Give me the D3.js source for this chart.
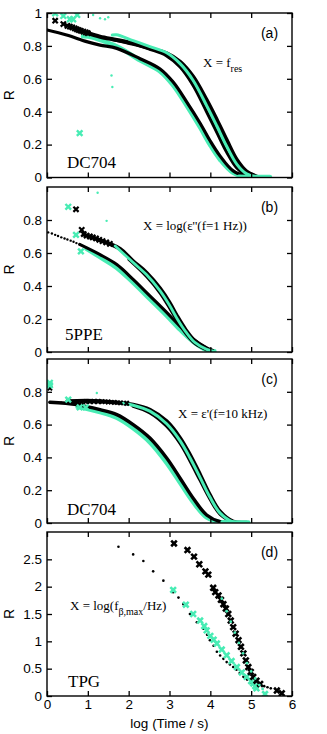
<!DOCTYPE html>
<html><head><meta charset="utf-8">
<script src="https://cdn.jsdelivr.net/npm/d3@7"></script>
<style>html,body{margin:0;padding:0;background:#fff;}svg{display:block;}</style>
</head><body><svg id="c" width="327" height="734"></svg>
<script>
// ---------- tick / label data ----------
const xTicks=[0,1,2,3,4,5,6];
const yTicksA=[0,0.2,0.4,0.6,0.8,1];
const yTicksB=[0,0.2,0.4,0.6,0.8];
const yTicksC=[0,0.2,0.4,0.6,0.8];
const yTicksD=[0,0.5,1,1.5,2,2.5];
const panelLabels=["(a)","(b)","(c)","(d)"];
const sampleNames=["DC704","5PPE","DC704","TPG"];

// ---------- panel (a) DC704, X = f_res ----------
const aBlackCross=[[0.2,0.953],[0.4,0.933],[0.5,0.922],[0.56,0.917],[0.62,0.912],[0.68,0.906],[0.73,0.901],[0.78,0.896],[0.83,0.892],[0.89,0.887],[0.95,0.882],[1.0,0.877]];
const aBlackOuter=[[1.0,0.877],[1.3,0.856],[1.71,0.836],[2.11,0.815],[2.52,0.785],[2.93,0.755],[3.26,0.704],[3.58,0.613],[3.91,0.471],[4.16,0.35],[4.40,0.228],[4.65,0.107],[4.89,0.036],[5.14,0.006]];
const aBlackInner=[[1.6,0.84],[2.11,0.81],[2.52,0.78],[2.93,0.74],[3.26,0.672],[3.58,0.56],[3.91,0.4],[4.16,0.275],[4.40,0.155],[4.65,0.058],[4.89,0.012],[5.05,0.004]];
const aCyanUpper=[[1.6,0.866],[1.7,0.868],[2.11,0.832],[2.52,0.796],[2.93,0.758],[3.26,0.692],[3.58,0.59],[3.91,0.437],[4.16,0.313],[4.40,0.19],[4.65,0.08],[4.89,0.022],[5.14,0.004]];
const aBlackLower=[[0,0.897],[0.48,0.866],[0.97,0.826],[1.3,0.805],[1.71,0.785],[2.28,0.722],[2.77,0.66],[3.09,0.58],[3.42,0.46],[3.75,0.33],[3.99,0.225],[4.24,0.13],[4.56,0.04],[4.89,0.005]];
const aCyanLower=[[0.88,0.858],[1.1,0.853],[1.4,0.828],[1.8,0.786],[2.28,0.712],[2.77,0.645],[3.09,0.56],[3.42,0.438],[3.75,0.305],[3.99,0.2],[4.24,0.108],[4.56,0.028],[4.89,0.004]];
const aCyanTail=[[4.7,0.005],[5.0,0.003],[5.46,0.003]];
const aCyanCross=[[0.2,0.998],[0.4,0.982],[0.56,0.962],[0.64,0.962],[0.74,0.988],[0.8,0.27]];
const aCyanDot=[[1.13,0.988],[1.30,0.968],[1.42,0.962],[1.50,0.974],[1.58,0.62],[1.6,0.55]];

// ---------- panel (b) 5PPE, X = log(eps''(1 Hz)) ----------
const bBlackDot=[[0.03,0.725],[0.12,0.718],[0.2,0.71],[0.27,0.703],[0.35,0.695],[0.43,0.688],[0.5,0.682],[0.58,0.675],[0.65,0.668],[0.72,0.66],[0.8,0.652]];
const bBlackCross=[[0.71,0.865],[0.85,0.74],[0.9,0.715],[0.97,0.705],[1.05,0.7],[1.12,0.695],[1.2,0.688],[1.28,0.68],[1.36,0.672],[1.45,0.664],[1.54,0.655]];
const bBlackUpper=[[0.9,0.712],[1.54,0.655],[1.79,0.625],[2.11,0.55],[2.44,0.48],[2.77,0.385],[3.0,0.3],[3.18,0.22],[3.4,0.133],[3.62,0.066],[3.91,0.02],[4.05,0.008]];
const bBlackInner=[[2.0,0.56],[2.44,0.455],[2.77,0.355],[3.0,0.265],[3.18,0.19],[3.4,0.11],[3.62,0.05],[3.91,0.012]];
const bBlackLower=[[0.8,0.652],[1.30,0.59],[1.71,0.53],[2.11,0.44],[2.52,0.34],[2.93,0.24],[3.26,0.155],[3.58,0.08],[3.91,0.025],[4.05,0.008]];
const bCyanUpper=[[1.67,0.642],[2.11,0.542],[2.44,0.468],[2.77,0.37],[3.0,0.283],[3.18,0.205],[3.4,0.122],[3.62,0.058],[3.91,0.016],[4.1,0.004]];
const bCyanLower=[[0.97,0.625],[1.30,0.575],[1.71,0.51],[2.11,0.42],[2.52,0.32],[2.93,0.22],[3.26,0.135],[3.58,0.063],[3.91,0.012],[4.1,0.004]];
const bCyanCross=[[0.52,0.88],[0.71,0.71],[0.83,0.61]];
const bCyanDot=[[1.24,0.965],[1.46,0.795]];

// ---------- panel (c) DC704, X = eps'(10 kHz) ----------
const cBlackDot=[[0.07,0.736],[0.15,0.735],[0.25,0.734],[0.35,0.733],[0.45,0.732],[0.55,0.731],[0.65,0.73]];
const cBlackCross=[[0.07,0.822],[0.75,0.735],[0.85,0.738],[0.95,0.74],[1.05,0.74],[1.15,0.741],[1.25,0.741],[1.35,0.74],[1.5,0.738],[1.65,0.735],[1.8,0.733],[1.95,0.73]];
const cBlackOuter=[[0.5,0.743],[1.3,0.743],[2.11,0.722],[2.52,0.691],[2.93,0.62],[3.26,0.518],[3.5,0.416],[3.75,0.294],[3.99,0.171],[4.24,0.069],[4.56,0.008],[4.89,0.002]];
const cBlackInner=[[2.11,0.712],[2.52,0.672],[2.93,0.59],[3.26,0.485],[3.5,0.38],[3.75,0.26],[3.99,0.147],[4.24,0.053],[4.56,0.005]];
const cCyanUpper=[[1.8,0.733],[2.11,0.718],[2.52,0.682],[2.93,0.605],[3.26,0.501],[3.5,0.398],[3.75,0.277],[3.99,0.158],[4.24,0.06],[4.56,0.006],[4.8,0.002]];
const cBlackLower=[[0.07,0.736],[0.73,0.722],[1.3,0.691],[1.71,0.661],[2.11,0.6],[2.52,0.518],[2.93,0.396],[3.26,0.273],[3.58,0.151],[3.91,0.049],[4.24,0.008],[4.56,0.002]];
const cCyanLower=[[0.75,0.708],[1.3,0.676],[1.71,0.642],[2.11,0.578],[2.52,0.492],[2.93,0.367],[3.26,0.245],[3.58,0.127],[3.91,0.034],[4.24,0.005],[4.56,0.002]];
const cCyanTail=[[4.3,0.004],[4.6,0.003],[4.93,0.003]];
const cCyanCross=[[0.07,0.855],[0.07,0.84],[0.52,0.752],[0.8,0.705],[0.95,0.705]];
const cCyanDot=[[1.22,0.793]];

// ---------- panel (d) TPG, X = log(f_beta,max/Hz) ----------
const dBlackDot=[[1.75,2.73],[2.11,2.59],[2.36,2.47],[2.6,2.28],[2.85,2.11],[3.09,1.9],[3.22,1.8],[3.34,1.68],[3.5,1.5],[3.67,1.35],[3.83,1.23],[3.92,1.12],[3.99,1.02],[4.08,0.92],[4.16,0.81],[4.24,0.74],[4.32,0.68],[4.4,0.62],[4.48,0.575],[4.56,0.53],[4.64,0.48],[4.72,0.42],[4.81,0.35],[4.9,0.3],[5.01,0.24],[5.1,0.2],[5.32,0.18],[5.4,0.16],[5.48,0.14]];
const dCyanCross=[[3.09,1.94],[3.4,1.67],[3.58,1.5],[3.75,1.38],[3.85,1.28],[3.91,1.2],[4.0,1.1],[4.08,1.03],[4.16,0.96],[4.28,0.85],[4.4,0.745],[4.52,0.64],[4.65,0.53],[4.77,0.43],[4.89,0.35],[5.0,0.27],[5.05,0.23],[5.1,0.18],[5.13,0.14],[5.34,0.036]];
const dBlackCross=[[3.11,2.79],[3.44,2.67],[3.6,2.55],[3.73,2.41],[3.88,2.28],[3.95,2.22],[4.07,1.98],[4.12,1.9],[4.2,1.84],[4.26,1.76],[4.32,1.68],[4.38,1.6],[4.44,1.5],[4.5,1.38],[4.56,1.26],[4.62,1.14],[4.69,1.02],[4.75,0.9],[4.81,0.78],[4.87,0.65],[4.93,0.53],[4.99,0.44],[5.05,0.35],[5.13,0.28],[5.22,0.22],[5.63,0.1],[5.75,0.05]];
const dCyanDot=[[4.28,1.78],[4.4,1.55],[4.5,1.36],[4.6,1.16],[4.7,0.97],[4.8,0.78],[4.9,0.6],[5.0,0.45],[5.1,0.32],[5.2,0.2],[5.28,0.13],[5.35,0.05]];

// ---------- drawing ----------
const CYAN="#48ECB4", BLACK="#000";
const svg=d3.select("#c");
const L=47, R=292;
const x=d3.scaleLinear().domain([0,6]).range([L,R]);
const fmt=d=>String(d);

const panels=[
 {top:13,bottom:177.5,ymax:1,ticks:yTicksA,
  lines:[[aCyanLower,CYAN,4.5],[aBlackLower,BLACK,3.2],[aBlackOuter,BLACK,4],[aBlackInner,BLACK,3.2],[aCyanUpper,CYAN,3],[aCyanTail,CYAN,4.5]],
  pts:[[aBlackCross,"x",BLACK,2.6,2.2],[aCyanCross,"x",CYAN,2.8,2.4],[aCyanDot,"o",CYAN,1.2]],
  note:{x:203,y:67,parts:[["X = f",0],["res",1]]},sx:67,sy:168},
 {top:187,bottom:352,ymax:1,ticks:yTicksB,
  lines:[[bCyanLower,CYAN,4.5],[bBlackLower,BLACK,3],[bBlackUpper,BLACK,4],[bBlackInner,BLACK,2.6],[bCyanUpper,CYAN,2.8]],
  pts:[[bBlackDot,"o",BLACK,1.2],[bBlackCross,"x",BLACK,2.6,2.2],[bCyanCross,"x",CYAN,2.8,2.4],[bCyanDot,"o",CYAN,1.2]],
  note:{x:143,y:230,parts:[["X = log(ε''(f=1 Hz))",0]]},sx:65,sy:340},
 {top:359,bottom:523,ymax:1,ticks:yTicksC,
  lines:[[cCyanLower,CYAN,4.5],[cBlackLower,BLACK,3.4],[cBlackOuter,BLACK,4],[cBlackInner,BLACK,3.2],[cCyanUpper,CYAN,3],[cCyanTail,CYAN,4.5]],
  pts:[[cBlackDot,"o",BLACK,1.2],[cBlackCross,"x",BLACK,2.2,2],[cCyanCross,"x",CYAN,2.8,2.4],[cCyanDot,"o",CYAN,1.2]],
  note:{x:178,y:418,parts:[["X = ε'(f=10 kHz)",0]]},sx:67,sy:515},
 {top:532,bottom:696,ymax:3,ticks:yTicksD,
  lines:[],
  pts:[[dBlackDot,"o",BLACK,1.3],[dCyanCross,"x",CYAN,2.8,2.6],[dBlackCross,"x",BLACK,2.8,2.6],[dCyanDot,"o",CYAN,1.4]],
  note:{x:70,y:610,parts:[["X = log(f",0],["β,max",1],["/Hz)",0]]},sx:68,sy:687}
];

function crossPath(s){return `M${-s},${-s}L${s},${s}M${-s},${s}L${s},${-s}`;}

panels.forEach((p,i)=>{
  const y=d3.scaleLinear().domain([0,p.ymax]).range([p.bottom,p.top]);
  const g=svg.append("g");
  const clipId="clip"+i;
  svg.append("clipPath").attr("id",clipId).append("rect")
    .attr("x",L).attr("y",p.top).attr("width",R-L).attr("height",p.bottom-p.top);
  const plot=g.append("g").attr("clip-path",`url(#${clipId})`);
  const line=d3.line().x(d=>x(d[0])).y(d=>y(d[1])).curve(d3.curveCatmullRom.alpha(0.5));
  p.lines.forEach(([data,col,w])=>{
    plot.append("path").attr("d",line(data)).attr("fill","none").attr("stroke",col)
      .attr("stroke-width",w).attr("stroke-linecap","round").attr("stroke-linejoin","round");
  });
  p.pts.forEach(([data,type,col,s,sw])=>{
    if(type==="x"){
      plot.selectAll(null).data(data).enter().append("path")
        .attr("transform",d=>`translate(${x(d[0])},${y(d[1])})`)
        .attr("d",crossPath(s)).attr("stroke",col).attr("stroke-width",sw).attr("fill","none");
    } else {
      plot.selectAll(null).data(data).enter().append("circle")
        .attr("cx",d=>x(d[0])).attr("cy",d=>y(d[1])).attr("r",s).attr("fill",col);
    }
  });
  const ax=(a,pad)=>a.tickSizeInner(-5).tickSizeOuter(0).tickPadding(pad);
  const left=g.append("g").attr("transform",`translate(${L},0)`)
    .call(ax(d3.axisLeft(y).tickValues(p.ticks).tickFormat(fmt),5));
  const right=g.append("g").attr("transform",`translate(${R},0)`)
    .call(ax(d3.axisRight(y).tickValues(p.ticks).tickFormat(""),5));
  const top=g.append("g").attr("transform",`translate(0,${p.top})`)
    .call(ax(d3.axisTop(x).tickValues(xTicks).tickFormat(""),5));
  const bot=g.append("g").attr("transform",`translate(0,${p.bottom})`)
    .call(ax(d3.axisBottom(x).tickValues(xTicks).tickFormat(i===3?fmt:""),3.5));
  [left,right,top,bot].forEach(a=>{
    a.select(".domain").remove();
    a.selectAll("line").attr("stroke","#000").attr("stroke-width",1.3);
    a.selectAll("text").attr("font-family","'Liberation Sans',Arial,sans-serif").attr("font-size",13.5).attr("fill","#000");
  });
  g.append("rect").attr("x",L).attr("y",p.top).attr("width",R-L).attr("height",p.bottom-p.top)
    .attr("fill","none").attr("stroke","#000").attr("stroke-width",1.4);
  g.append("text").attr("transform",`translate(14,${(p.top+p.bottom)/2}) rotate(-90)`)
    .attr("text-anchor","middle").attr("font-family","'Liberation Sans',Arial,sans-serif")
    .attr("font-size",14).text("R");
  g.append("text").attr("x",269.5).attr("y",p.top+25).attr("text-anchor","middle")
    .attr("font-family","'Liberation Sans',Arial,sans-serif").attr("font-size",14).text(panelLabels[i]);
  g.append("text").attr("x",p.sx).attr("y",p.sy).attr("font-family","'Liberation Serif','Times New Roman',serif")
    .attr("font-size",17).text(sampleNames[i]);
  const t=g.append("text").attr("x",p.note.x).attr("y",p.note.y)
    .attr("font-family","'Liberation Serif','Times New Roman',serif").attr("font-size",13);
  let shifted=false;
  p.note.parts.forEach(([s,sub])=>{
    const dy=sub?5:(shifted?-5:0);
    t.append("tspan").attr("font-size",sub?10:13).attr("dy",dy).text(s);
    shifted=!!sub;
  });
});
svg.append("text").attr("x",(L+R)/2).attr("y",728).attr("text-anchor","middle")
  .attr("font-family","'Liberation Sans',Arial,sans-serif").attr("font-size",13.5).text("log (Time / s)");
</script></body></html>
